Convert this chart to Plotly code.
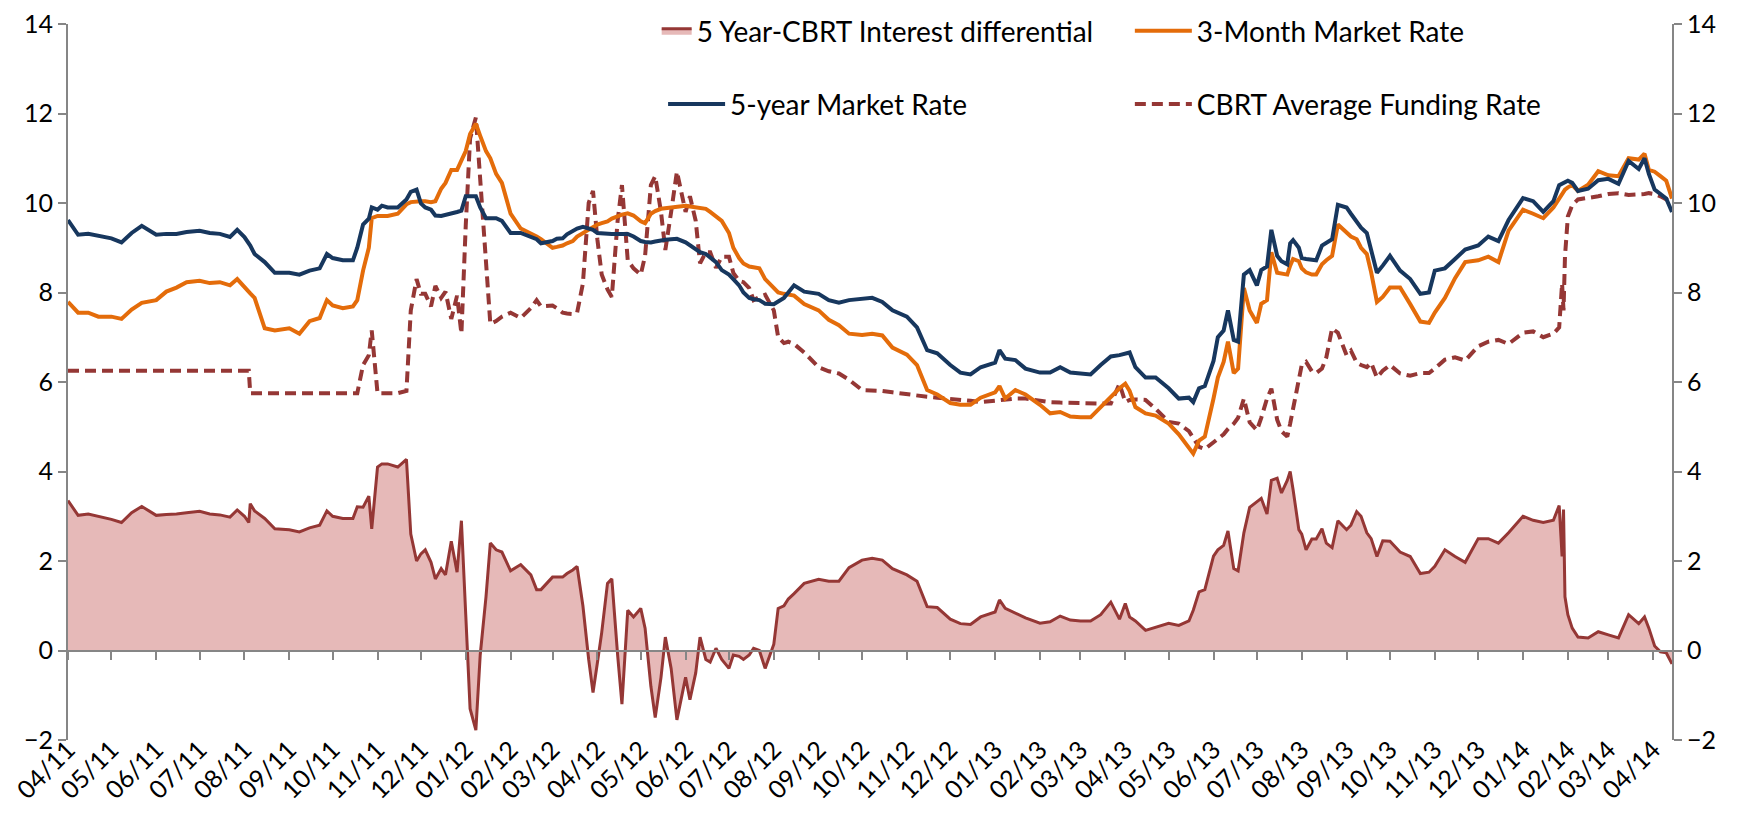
import plotly.graph_objects as go

# ---------------- data ----------------
dates = [
    "2011-04-01","2011-04-08","2011-04-15","2011-04-22",
    "2011-05-01","2011-05-08","2011-05-15","2011-05-22",
    "2011-06-01","2011-06-08","2011-06-15","2011-06-22",
    "2011-07-01","2011-07-08","2011-07-15","2011-07-22","2011-07-27",
    "2011-08-01","2011-08-04","2011-08-05","2011-08-08","2011-08-15","2011-08-22",
    "2011-09-01","2011-09-08","2011-09-15","2011-09-22","2011-09-27",
    "2011-10-01","2011-10-08","2011-10-15","2011-10-18","2011-10-22","2011-10-26","2011-10-28",
    "2011-11-01","2011-11-04","2011-11-08","2011-11-15","2011-11-21","2011-11-24","2011-11-28",
    "2011-12-01","2011-12-04","2011-12-08","2011-12-11","2011-12-15","2011-12-18","2011-12-22","2011-12-26","2011-12-29",
    "2012-01-01","2012-01-04","2012-01-08","2012-01-11","2012-01-15","2012-01-18","2012-01-22","2012-01-26",
    "2012-02-01","2012-02-08","2012-02-15","2012-02-19","2012-02-22",
    "2012-03-01","2012-03-04","2012-03-08","2012-03-11","2012-03-15","2012-03-18","2012-03-22","2012-03-26","2012-03-29",
    "2012-04-01","2012-04-04","2012-04-08","2012-04-11","2012-04-15","2012-04-18","2012-04-22","2012-04-26",
    "2012-05-01","2012-05-04","2012-05-08","2012-05-11","2012-05-15","2012-05-18","2012-05-22","2012-05-26",
    "2012-06-01","2012-06-04","2012-06-08","2012-06-11","2012-06-15","2012-06-18","2012-06-22","2012-06-26",
    "2012-07-01","2012-07-04","2012-07-08","2012-07-11","2012-07-15","2012-07-18","2012-07-22","2012-07-26",
    "2012-08-01","2012-08-04","2012-08-08","2012-08-11","2012-08-15","2012-08-22",
    "2012-09-01","2012-09-08","2012-09-15","2012-09-22",
    "2012-10-01","2012-10-08","2012-10-15","2012-10-22",
    "2012-11-01","2012-11-08","2012-11-15","2012-11-22",
    "2012-12-01","2012-12-08","2012-12-15","2012-12-22",
    "2013-01-01","2013-01-04","2013-01-08","2013-01-15","2013-01-22",
    "2013-02-01","2013-02-08","2013-02-15","2013-02-22",
    "2013-03-01","2013-03-08","2013-03-15","2013-03-22","2013-03-28",
    "2013-04-01","2013-04-04","2013-04-08","2013-04-15","2013-04-22",
    "2013-05-01","2013-05-08","2013-05-15","2013-05-18","2013-05-22","2013-05-26",
    "2013-06-01","2013-06-04","2013-06-08","2013-06-11","2013-06-15","2013-06-18","2013-06-22","2013-06-26",
    "2013-07-01","2013-07-04","2013-07-08","2013-07-11","2013-07-15","2013-07-18","2013-07-22","2013-07-24","2013-07-26","2013-07-30",
    "2013-08-01","2013-08-04","2013-08-08","2013-08-11","2013-08-15","2013-08-18","2013-08-22","2013-08-26",
    "2013-09-01","2013-09-04","2013-09-08","2013-09-11","2013-09-15","2013-09-18","2013-09-22","2013-09-26",
    "2013-10-01","2013-10-08","2013-10-15","2013-10-22","2013-10-28",
    "2013-11-01","2013-11-08","2013-11-15","2013-11-22",
    "2013-12-01","2013-12-08","2013-12-15","2013-12-22",
    "2014-01-01","2014-01-08","2014-01-15","2014-01-22","2014-01-26","2014-01-28","2014-01-29","2014-01-30",
    "2014-02-01","2014-02-04","2014-02-08","2014-02-15","2014-02-22",
    "2014-03-01","2014-03-08","2014-03-15","2014-03-22","2014-03-26","2014-03-29",
    "2014-04-02","2014-04-06","2014-04-10","2014-04-14",
]

five_year = [
    9.62,9.29,9.31,9.27,
    9.21,9.12,9.33,9.49,
    9.29,9.31,9.31,9.35,
    9.38,9.33,9.31,9.24,9.40,
    9.24,9.10,9.05,8.86,8.68,8.44,
    8.44,8.40,8.49,8.54,8.86,
    8.77,8.72,8.72,9.00,9.52,9.65,9.90,
    9.85,9.94,9.90,9.90,10.08,10.25,10.30,
    9.99,9.90,9.85,9.72,9.71,9.73,9.76,9.80,9.83,
    10.15,10.15,10.15,9.90,9.66,9.66,9.66,9.60,
    9.33,9.33,9.24,9.19,9.10,
    9.15,9.20,9.21,9.30,9.38,9.43,9.47,9.43,9.40,
    9.33,9.32,9.31,9.31,9.31,9.31,9.31,9.25,
    9.15,9.13,9.12,9.14,9.17,9.18,9.19,9.20,
    9.12,9.05,8.96,8.90,8.86,8.78,8.68,8.50,
    8.40,8.30,8.16,8.00,7.88,7.85,7.83,7.75,
    7.74,7.80,7.88,8.00,8.16,8.02,
    7.97,7.83,7.77,7.83,
    7.86,7.88,7.79,7.60,
    7.46,7.22,6.71,6.64,
    6.38,6.21,6.17,6.33,
    6.43,6.71,6.52,6.49,6.30,
    6.21,6.21,6.33,6.21,
    6.19,6.17,6.38,6.57,6.60,
    6.64,6.66,6.33,6.10,6.10,
    5.86,5.63,5.65,5.55,5.86,5.91,
    6.47,7.00,7.15,7.60,6.94,6.90,8.40,8.50,
    8.16,8.50,8.58,9.40,8.82,8.70,8.63,9.10,9.17,9.00,
    8.77,8.75,8.72,8.72,9.05,9.12,9.19,9.96,
    9.90,9.76,9.57,9.45,9.33,8.95,8.44,8.60,
    8.82,8.49,8.30,7.97,8.00,
    8.49,8.54,8.75,8.96,
    9.05,9.25,9.15,9.62,
    10.11,10.04,9.80,10.04,10.40,10.44,10.45,10.47,
    10.50,10.45,10.27,10.32,10.51,
    10.54,10.43,10.94,10.76,11.00,10.65,
    10.30,10.20,10.10,9.80,
]

three_month = [
    7.79,7.55,7.55,7.46,
    7.46,7.41,7.62,7.77,
    7.83,8.02,8.11,8.23,
    8.26,8.21,8.23,8.16,8.30,
    8.11,8.00,7.98,7.88,7.20,7.15,
    7.20,7.08,7.36,7.43,7.83,
    7.71,7.65,7.69,7.83,8.49,9.00,9.66,
    9.71,9.71,9.71,9.76,9.97,10.02,10.04,
    10.04,10.04,10.02,10.04,10.32,10.45,10.74,10.74,10.95,
    11.16,11.54,11.77,11.50,11.16,11.00,10.65,10.45,
    9.76,9.43,9.33,9.25,9.19,
    9.00,9.02,9.05,9.10,9.15,9.25,9.33,9.42,9.47,
    9.52,9.55,9.59,9.65,9.71,9.74,9.77,9.72,
    9.59,9.55,9.76,9.82,9.87,9.88,9.90,9.92,
    9.94,9.92,9.90,9.88,9.87,9.80,9.71,9.60,
    9.33,9.00,8.77,8.65,8.58,8.56,8.54,8.30,
    8.09,8.00,7.97,7.95,7.93,7.74,
    7.60,7.39,7.27,7.08,
    7.05,7.08,7.04,6.77,
    6.61,6.38,5.82,5.72,
    5.53,5.49,5.49,5.65,
    5.77,5.91,5.63,5.82,5.72,
    5.49,5.30,5.33,5.23,
    5.21,5.21,5.44,5.68,5.86,
    5.96,5.80,5.44,5.30,5.25,
    5.07,4.83,4.55,4.40,4.69,4.78,
    5.63,6.10,6.45,6.90,6.20,6.30,8.10,7.60,
    7.32,7.75,7.83,8.90,8.44,8.42,8.40,8.60,8.75,8.70,
    8.54,8.45,8.40,8.40,8.63,8.72,8.82,9.52,
    9.35,9.25,9.19,9.00,8.86,8.45,7.79,7.90,
    8.11,8.11,7.74,7.35,7.32,
    7.55,7.88,8.32,8.68,
    8.72,8.80,8.68,9.38,
    9.85,9.76,9.66,9.90,10.10,10.20,10.25,10.30,
    10.35,10.40,10.27,10.41,10.71,
    10.62,10.60,11.00,10.97,11.10,10.74,
    10.70,10.60,10.50,10.10,
]

cbrt_funding = [
    6.25,6.25,6.25,6.25,
    6.25,6.25,6.25,6.25,
    6.25,6.25,6.25,6.25,
    6.25,6.25,6.25,6.25,6.25,
    6.25,6.25,5.75,5.75,5.75,5.75,
    5.75,5.75,5.75,5.75,5.75,
    5.75,5.75,5.75,5.75,6.38,6.60,7.15,
    5.75,5.75,5.75,5.75,5.80,7.60,8.30,
    7.97,7.97,7.69,8.15,7.88,8.02,7.41,7.93,7.08,
    9.50,11.44,11.91,10.60,8.63,7.30,7.36,7.46,
    7.55,7.43,7.65,7.83,7.69,
    7.71,7.65,7.55,7.53,7.52,7.55,8.20,10.00,10.27,
    9.19,8.40,8.07,7.90,9.60,10.40,8.72,8.54,
    8.40,8.82,10.40,10.60,9.80,8.95,9.80,10.70,
    9.80,10.15,9.60,8.65,8.90,8.90,8.55,8.80,
    8.80,8.44,8.26,8.23,8.10,7.83,7.90,7.95,
    7.60,7.00,6.87,6.90,6.85,6.66,
    6.33,6.24,6.19,6.05,
    5.82,5.82,5.80,5.77,
    5.72,5.69,5.67,5.65,
    5.63,5.61,5.58,5.55,
    5.58,5.60,5.61,5.63,5.63,
    5.58,5.55,5.54,5.53,
    5.52,5.52,5.52,5.52,5.96,
    5.55,5.60,5.61,5.60,5.40,
    5.11,5.07,4.90,4.75,4.55,4.50,
    4.64,4.72,4.83,4.95,5.07,5.20,5.63,5.10,
    4.92,5.20,5.63,5.85,5.16,4.90,4.78,5.07,5.40,6.10,
    6.38,6.45,6.24,6.20,6.30,6.55,7.20,7.10,
    6.60,6.70,6.43,6.38,6.33,6.43,6.10,6.25,
    6.38,6.19,6.14,6.20,6.20,
    6.30,6.50,6.55,6.48,
    6.80,6.90,6.94,6.85,
    7.10,7.13,7.00,7.08,7.22,8.20,7.60,8.80,
    9.70,9.95,10.08,10.11,10.15,
    10.20,10.22,10.18,10.18,10.20,10.22,
    10.20,10.15,10.08,10.04,
]

differential = [
    3.35,3.02,3.05,3.00,
    2.93,2.86,3.08,3.22,
    3.02,3.04,3.05,3.08,
    3.11,3.05,3.03,2.98,3.14,
    3.00,2.86,3.28,3.12,2.95,2.72,
    2.70,2.65,2.74,2.80,3.12,
    3.00,2.95,2.95,3.21,3.20,3.45,2.72,
    4.10,4.17,4.17,4.10,4.27,2.60,2.00,
    2.16,2.25,1.97,1.60,1.83,1.69,2.44,1.75,2.90,
    0.80,-1.30,-1.78,-0.10,1.20,2.40,2.25,2.20,
    1.78,1.92,1.69,1.36,1.36,
    1.64,1.64,1.64,1.72,1.80,1.88,1.00,-0.20,-0.94,
    -0.28,0.40,1.50,1.60,-0.10,-1.20,0.90,0.75,
    0.94,0.50,-0.80,-1.50,-0.60,0.30,-0.40,-1.55,
    -0.60,-1.10,-0.50,0.30,-0.20,-0.26,0.05,-0.20,
    -0.40,-0.10,-0.13,-0.20,-0.10,0.05,0.00,-0.40,
    0.14,0.94,1.00,1.15,1.27,1.50,
    1.59,1.55,1.55,1.85,
    2.02,2.06,2.02,1.83,
    1.69,1.55,0.98,0.96,
    0.70,0.60,0.58,0.75,
    0.86,1.13,0.94,0.84,0.73,
    0.61,0.64,0.77,0.68,
    0.66,0.66,0.80,1.08,0.70,
    1.05,0.75,0.66,0.45,0.52,
    0.61,0.56,0.66,0.90,1.31,1.36,
    2.11,2.25,2.35,2.67,1.83,1.78,2.63,3.20,
    3.33,3.40,3.05,3.80,3.85,3.52,3.80,4.00,3.60,2.70,
    2.60,2.25,2.49,2.49,2.72,2.40,2.30,2.90,
    2.70,2.80,3.10,3.00,2.63,2.50,2.10,2.45,
    2.44,2.20,2.10,1.72,1.75,
    1.88,2.25,2.10,1.97,
    2.50,2.50,2.40,2.63,
    3.00,2.91,2.86,2.91,3.24,2.10,3.15,1.20,
    0.80,0.50,0.30,0.28,0.42,
    0.35,0.28,0.80,0.60,0.75,0.50,
    0.10,-0.03,-0.05,-0.30,
]

y_ticks = [-2, 0, 2, 4, 6, 8, 10, 12, 14]
x_start, x_end = "2011-04-01", "2014-04-14"

names = {
    "diff": "5 Year-CBRT Interest differential",
    "m3": "3-Month Market Rate",
    "y5": "5-year Market Rate",
    "cb": "CBRT Average Funding Rate",
}

# ---------------- styling ----------------
FONT = "Lato, 'Open Sans', sans-serif"
AX = "#868686"
NAVY = "#17375E"
ORANGE = "#E46C0A"
DARKRED = "#953735"
PINK = "#E6B9B8"

fig = go.Figure()

fig.add_trace(go.Scatter(
    x=dates, y=differential, name=names["diff"], mode="lines",
    fill="tozeroy", fillcolor=PINK, line=dict(color=DARKRED, width=3),
    legend="legend", hoverinfo="skip"))
fig.add_trace(go.Scatter(
    x=dates, y=cbrt_funding, name=names["cb"], mode="lines",
    line=dict(color=DARKRED, width=4, dash="11px,6px"),
    legend="legend4", hoverinfo="skip"))
fig.add_trace(go.Scatter(
    x=dates, y=three_month, name=names["m3"], mode="lines",
    line=dict(color=ORANGE, width=4),
    legend="legend3", hoverinfo="skip"))
fig.add_trace(go.Scatter(
    x=dates, y=five_year, name=names["y5"], mode="lines",
    line=dict(color=NAVY, width=4),
    legend="legend2", hoverinfo="skip"))

# helper traces so the label axis (x2) and the right axis (y2) render
fig.add_trace(go.Scatter(x=[x_start, x_end], y=[None, None], xaxis="x2", yaxis="y",
                         showlegend=False, hoverinfo="skip", mode="lines"))
fig.add_trace(go.Scatter(x=[x_start, x_end], y=[None, None], xaxis="x", yaxis="y2",
                         showlegend=False, hoverinfo="skip", mode="lines"))

W, H = 1738, 817
ML, MR, MT, MB = 60, 74, 16, 85
ymin, ymax = y_ticks[0], y_ticks[-1]
zero_pos = (0 - ymin) / (ymax - ymin)

tick_font = dict(family=FONT, size=25, color="#000000")
leg_font = dict(family=FONT, size=28, color="#000000")

fig.update_layout(
    width=W, height=H,
    margin=dict(l=ML, r=MR, t=MT, b=MB, pad=0, autoexpand=False),
    paper_bgcolor="white", plot_bgcolor="white",
    font=dict(family=FONT, size=25, color="#000000"),
    hovermode=False,
    xaxis=dict(
        type="date", range=[x_start, x_end], anchor="free", position=zero_pos,
        showgrid=False, zeroline=False, showline=True, linecolor=AX, linewidth=2,
        ticks="outside", ticklen=8, tickwidth=1.5, tickcolor=AX,
        dtick="M1", tick0=x_start, showticklabels=False, automargin=False,
        layer="above traces",
    ),
    xaxis2=dict(
        type="date", overlaying="x", matches="x", anchor="free", position=0.015,
        side="bottom", showgrid=False, zeroline=False, showline=False, ticks="",
        dtick="M1", tick0=x_start, tickformat="%m/%y", tickangle=-45,
        tickfont=dict(family=FONT, size=25, color="#000000"), automargin=False,
        ticklabeloverflow="allow",
    ),
    yaxis=dict(
        range=[ymin, ymax], tickvals=y_ticks, showgrid=False, zeroline=False,
        showline=True, linecolor=AX, linewidth=2,
        ticks="outside", ticklen=8, tickwidth=1.5, tickcolor=AX,
        tickfont=tick_font, automargin=False, ticklabeloverflow="allow",
    ),
    yaxis2=dict(
        range=[ymin, ymax], tickvals=y_ticks, overlaying="y", matches="y", side="right",
        showgrid=False, zeroline=False, showline=True, linecolor=AX, linewidth=2,
        ticks="outside", ticklen=8, tickwidth=1.5, tickcolor=AX,
        tickfont=tick_font, automargin=False, ticklabeloverflow="allow",
    ),
)

row1_y, row2_y = 0.99, 0.888
common = dict(xanchor="left", yanchor="middle", orientation="v",
              bgcolor="rgba(0,0,0,0)", borderwidth=0, font=leg_font)
fig.update_layout(
    legend=dict(x=0.367, y=row1_y, itemwidth=30, **common),
    legend2=dict(x=0.371, y=row2_y, itemwidth=57, **common),
    legend3=dict(x=0.662, y=row1_y, itemwidth=57, **common),
    legend4=dict(x=0.662, y=row2_y, itemwidth=57, **common),
)

fig.write_html("out.html")
